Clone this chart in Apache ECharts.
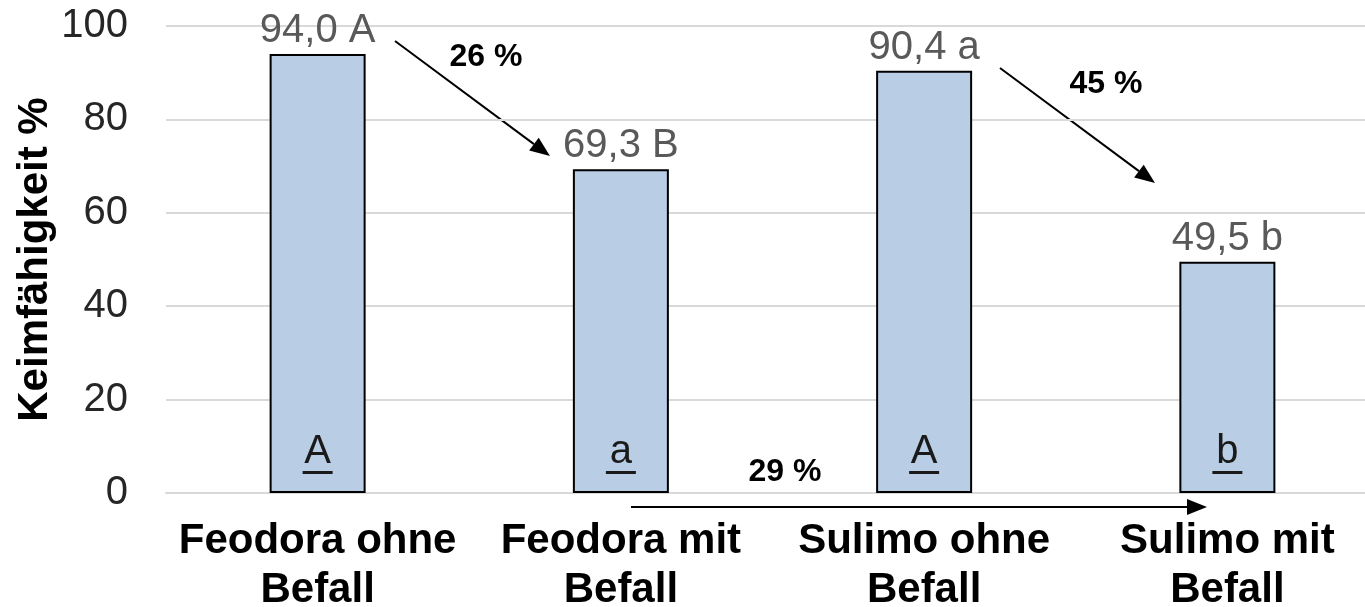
<!DOCTYPE html>
<html>
<head>
<meta charset="utf-8">
<script src="https://cdn.jsdelivr.net/npm/echarts@6/dist/echarts.min.js"></script>
<style>
  html, body { margin: 0; padding: 0; background: #fff; }
  #keimfaehigkeit_bar { width: 1365px; height: 607px; }
</style>
</head>
<body>
<div id="keimfaehigkeit_bar"></div>
<script>
// Keimfähigkeit % - Feodora / Sulimo, ohne und mit Befall

var categories = ['Feodora ohne\nBefall', 'Feodora mit\nBefall', 'Sulimo ohne\nBefall', 'Sulimo mit\nBefall'];
var keimfaehigkeit = [94.0, 69.3, 90.4, 49.5];
var lettersTop = ['A', 'B', 'a', 'b'];
var lettersInside = ['A', 'a', 'A', 'b'];
var reductions = ['26 %', '45 %', '29 %'];
var yTicks = [0, 20, 40, 60, 80, 100];

var FONT = '"Liberation Sans", Arial, sans-serif';

function fmt(v) {
    return v.toFixed(1).replace('.', ',');
}

// pfeil mit spitze
function arrow(x1, y1, x2, y2) {
    var ang = Math.atan2(y2 - y1, x2 - x1);
    var len = 20, half = 8;
    var bx = x2 - len * Math.cos(ang), by = y2 - len * Math.sin(ang);
    var nx = -Math.sin(ang) * half, ny = Math.cos(ang) * half;
    return [
        {
            type: 'line',
            shape: { x1: x1, y1: y1, x2: bx, y2: by },
            style: { stroke: '#000', lineWidth: 2 }
        },
        {
            type: 'polygon',
            shape: { points: [[x2, y2], [bx + nx, by + ny], [bx - nx, by - ny]] },
            style: { fill: '#000' }
        }
    ];
}

function pctText(txt, x, y) {
    return {
        type: 'text',
        x: x, y: y,
        style: {
            text: txt, fill: '#000', font: 'bold 32px ' + FONT,
            align: 'center', verticalAlign: 'middle'
        }
    };
}

var graphics = []
    .concat(arrow(395, 41, 550, 156))
    .concat(arrow(1000, 68, 1155, 183))
    .concat(arrow(631, 507, 1207, 507))
    .concat([
        pctText(reductions[0], 486, 57),
        pctText(reductions[1], 1106, 84),
        pctText(reductions[2], 785, 472)
    ]);

var option = {
    backgroundColor: '#fff',
    animation: false,
    textStyle: { fontFamily: FONT },
    grid: {
        left: 166,
        top: 26,
        width: 1213,
        height: 467,
        containLabel: false,
        outerBoundsMode: 'none'
    },
    xAxis: {
        type: 'category',
        data: categories,
        axisTick: { show: false },
        axisLine: { lineStyle: { color: '#d9d9d9', width: 2 } },
        axisLabel: {
            interval: 0,
            margin: 24,
            color: '#000',
            fontSize: 42,
            fontWeight: 'bold',
            lineHeight: 49,
            fontFamily: FONT
        }
    },
    yAxis: {
        type: 'value',
        min: yTicks[0],
        max: yTicks[yTicks.length - 1],
        interval: 20,
        name: 'Keimfähigkeit %',
        nameLocation: 'middle',
        nameGap: 110,
        nameMoveOverlap: false,
        nameTextStyle: {
            color: '#000',
            fontSize: 42,
            fontWeight: 'bold',
            fontFamily: FONT
        },
        axisLine: { show: false },
        axisTick: { show: false },
        axisLabel: {
            margin: 38,
            color: '#262626',
            fontSize: 40,
            fontFamily: FONT
        },
        splitLine: { lineStyle: { color: '#d9d9d9', width: 2 } }
    },
    series: [
        {
            name: 'Keimfähigkeit',
            type: 'bar',
            barWidth: 96,
            data: keimfaehigkeit,
            itemStyle: {
                color: '#b9cde5',
                borderColor: '#000',
                borderWidth: 2
            },
            label: {
                show: true,
                position: 'top',
                distance: 3,
                color: '#595959',
                fontSize: 40,
                fontFamily: FONT,
                formatter: function (p) {
                    return fmt(p.value) + ' ' + lettersTop[p.dataIndex];
                }
            }
        },
        {
            name: 'Buchstaben',
            type: 'bar',
            barWidth: 96,
            barGap: '-100%',
            data: keimfaehigkeit,
            silent: true,
            itemStyle: { color: 'rgba(0,0,0,0)' },
            label: {
                show: true,
                position: 'insideBottom',
                distance: 19,
                formatter: function (p) {
                    return '{t|' + lettersInside[p.dataIndex] + '}\n{u| }';
                },
                rich: {
                    t: {
                        color: '#1a1a1a',
                        fontSize: 40,
                        lineHeight: 38,
                        fontFamily: FONT,
                        align: 'center'
                    },
                    u: {
                        backgroundColor: '#1a1a1a',
                        width: 30,
                        height: 3,
                        lineHeight: 3,
                        fontSize: 1,
                        align: 'center'
                    }
                }
            }
        }
    ],
    graphic: graphics
};

var myChart = echarts.init(document.getElementById('keimfaehigkeit_bar'));
myChart.setOption(option);
</script>
</body>
</html>
